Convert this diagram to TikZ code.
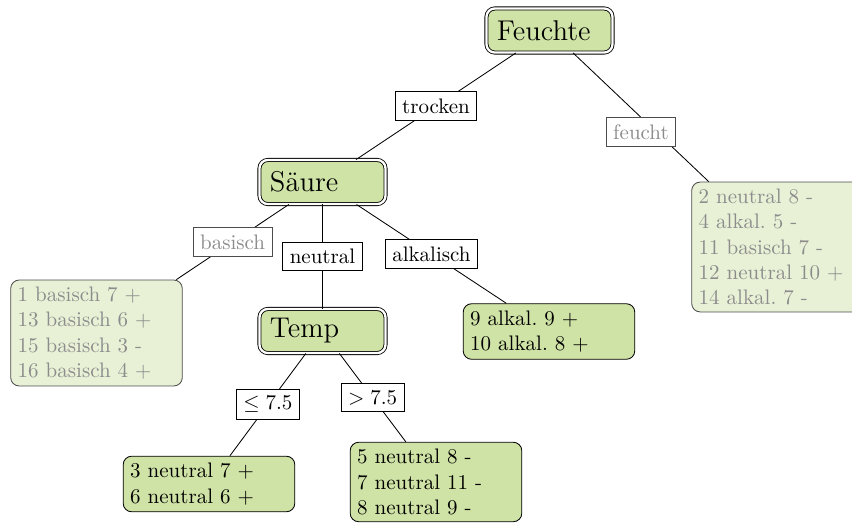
\documentclass[tikz,border=0pt]{standalone}
\usepackage{fontspec}
\definecolor{nodefill}{RGB}{208,227,166}
\definecolor{fadefill}{RGB}{232,241,214}
\tikzset{
  attr/.style={draw, double, double distance=1.1pt, rounded corners=4pt, fill=nodefill,
    text width=50pt, align=left, minimum height=21pt, inner xsep=5pt, inner ysep=3.33pt,
    font=\fontsize{13.6}{16}\selectfont},
  leaf/.style={draw, rounded corners=4pt, fill=nodefill, text width=75pt, align=left,
    inner sep=3.33pt},
  fadedleaf/.style={leaf, fill=fadefill, draw=black!70, text=black!45},
  lbl/.style={draw, fill=white, inner sep=3.33pt},
  fadedlbl/.style={lbl, draw=black!70, text=black!45},
}
\begin{document}
\frenchspacing
\begin{tikzpicture}[x=0.476pt, y=-0.476pt]
\useasboundingbox (0,0) rectangle (852,523);
\clip (0,0) rectangle (852,523);

% decision nodes
\node[attr] (feuchte) at (549.5,30.5) {Feuchte};
\node[attr] (saeure) at (322.5,182) {Säure};
\node[attr] (temp) at (322.5,331) {Temp};

% leaves
\node[fadedleaf] (leafB) at (96.5,333) {1 basisch 7 +\\13 basisch 6 +\\15 basisch 3 -\\16 basisch 4 +};
\node[fadedleaf] (leafF) at (777.5,247) {2 neutral 8 -\\4 alkal. 5 -\\11 basisch 7 -\\12 neutral 10 +\\14 alkal. 7 -};
\node[leaf] (leafA) at (549,331.5) {9 alkal. 9 +\\10 alkal. 8 +};
\node[leaf] (leafL) at (209,484) {3 neutral 7 +\\6 neutral 6 +};
\node[leaf] (leafH) at (436,482) {5 neutral 8 -\\7 neutral 11 -\\8 neutral 9 -};

% branches with their labels
\draw (feuchte) -- node[lbl] (lTrocken) {trocken} (saeure);
\draw (feuchte) -- node[fadedlbl, anchor=north] (lFeucht) {feucht} (leafF);
\draw (saeure) -- node[fadedlbl] (lBasisch) {basisch} (leafB);
\draw (saeure) -- node[lbl] (lNeutral) {neutral} (temp);
\draw (saeure) -- node[lbl] (lAlkalisch) {alkalisch} (leafA);
\draw (temp) -- node[lbl] (lLow) {$\leq 7.5$} (leafL);
\draw (temp) -- node[lbl] (lHigh) {$> 7.5$} (leafH);
\end{tikzpicture}
\end{document}
